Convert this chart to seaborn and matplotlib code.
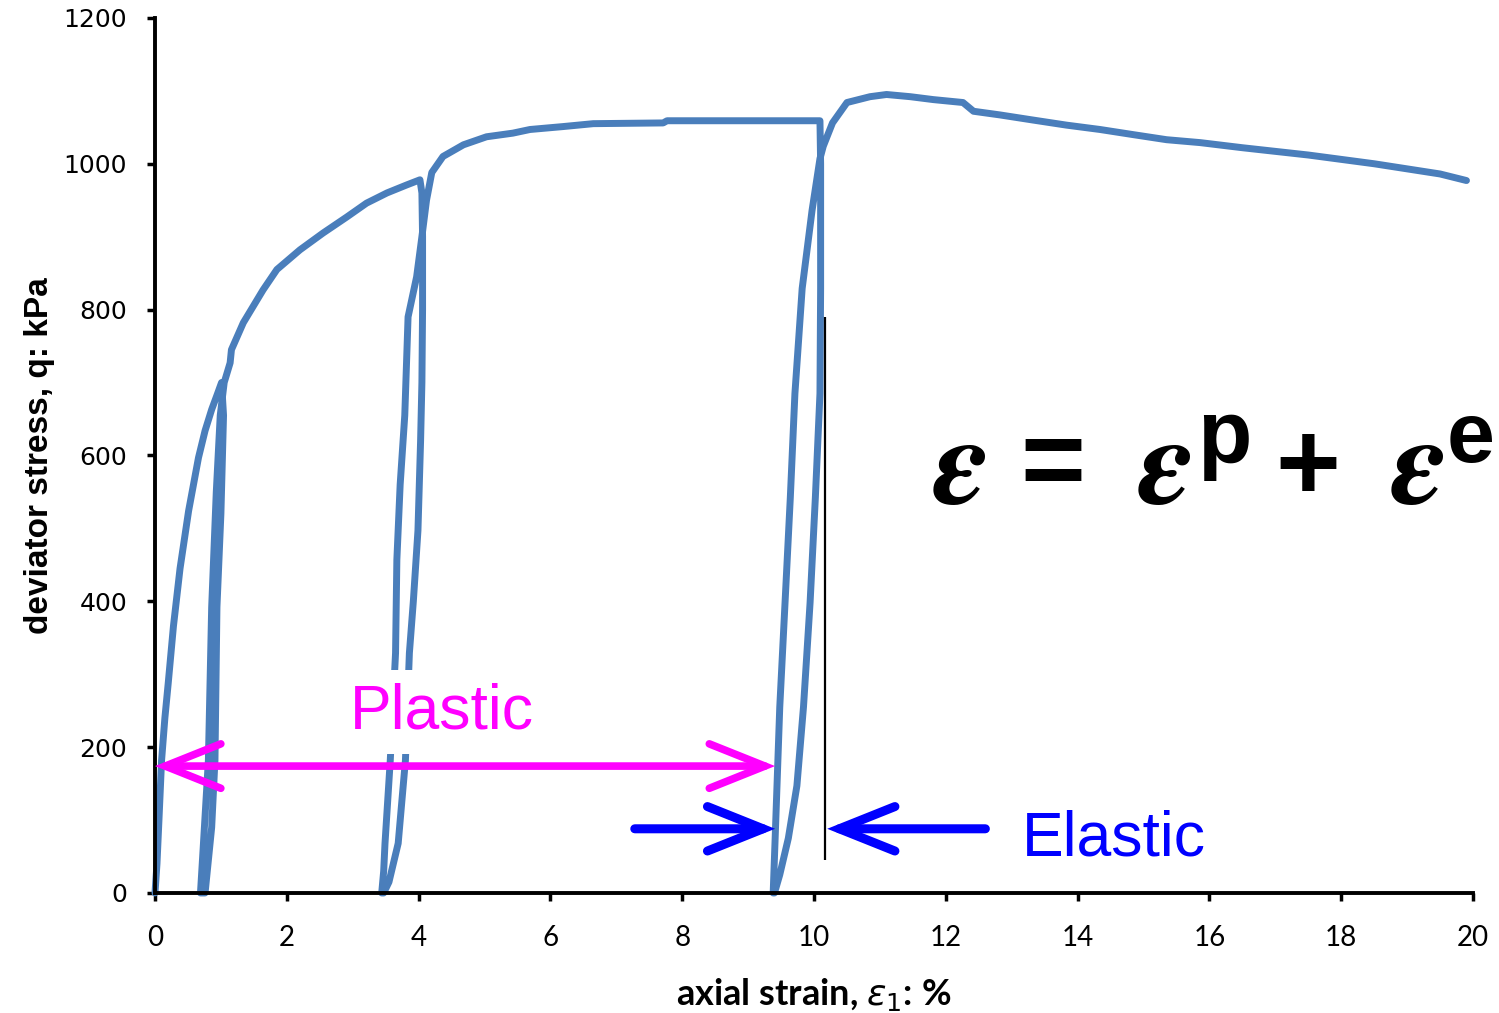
import matplotlib
matplotlib.use("Agg")
import matplotlib.pyplot as plt
import seaborn as sns
import pandas as pd

strain = [
    # first loading
    0.00, 0.03, 0.06, 0.10, 0.15, 0.20, 0.28, 0.38, 0.51, 0.66, 0.76, 0.86, 0.95, 1.01,
    # first unloading
    1.04, 1.00, 0.94, 0.91, 0.86, 0.76,
    # reloading
    0.69, 0.73, 0.81, 0.86, 0.93, 0.99, 1.05, 1.14, 1.16, 1.34, 1.64, 1.85, 2.20, 2.55, 2.91,
    3.21, 3.52, 3.82, 4.02,
    # second unloading
    4.05, 4.06, 4.06, 4.05, 4.03, 3.99, 3.92, 3.86, 3.80, 3.69, 3.55, 3.47,
    # reloading
    3.44, 3.47, 3.49, 3.57, 3.65, 3.67, 3.72, 3.79, 3.84, 3.97, 4.05, 4.12, 4.20, 4.37, 4.68,
    5.03, 5.43, 5.69, 6.19, 6.65, 7.71, 7.77, 10.09,
    # third unloading
    10.10, 10.10, 10.10, 10.09, 10.02, 9.94, 9.84, 9.74, 9.61, 9.48, 9.40,
    # reloading and post-peak
    9.38, 9.41, 9.48, 9.56, 9.64, 9.71, 9.82, 9.97, 10.09, 10.14, 10.28, 10.50, 10.85, 11.10,
    11.46, 11.81, 12.26, 12.42, 12.82, 13.32, 13.83, 14.34, 14.84, 15.35, 15.86, 16.50, 17.00,
    17.50, 18.00, 18.50, 19.00, 19.50, 19.90,
]
stress = [
    0, 40, 100, 182, 240, 287, 366, 445, 524, 597, 634, 663, 685, 700,
    655, 520, 392, 182, 90, 0,
    0, 60, 182, 392, 550, 655, 700, 727, 745, 782, 827, 855, 882, 905, 927,
    946, 960, 971, 978,
    960, 900, 800, 700, 620, 497, 400, 329, 182, 68, 15, 0,
    0, 30, 68, 182, 329, 457, 560, 655, 790, 845, 900, 950, 988, 1010, 1026,
    1037, 1042, 1047, 1051, 1055, 1056, 1059, 1059,
    1000, 900, 829, 685, 542, 398, 255, 147, 75, 25, 0,
    0, 75, 255, 398, 542, 685, 829, 936, 1007, 1024, 1056, 1084, 1092, 1095,
    1092, 1088, 1084, 1072, 1067, 1060, 1053, 1047, 1040, 1033, 1029, 1022, 1017,
    1012, 1006, 1000, 993, 986, 977,
]

x_ticks = [0, 2, 4, 6, 8, 10, 12, 14, 16, 18, 20]
y_ticks = [0, 200, 400, 600, 800, 1000, 1200]

# annotation anchors (strain %, stress kPa)
plastic_start, plastic_end, plastic_q = 0.0, 9.41, 174
elastic_left, elastic_right, elastic_q = 9.41, 10.20, 88
elastic_line_x = 10.17

sns.set_style("white")
plt.rcParams["font.family"] = ["Liberation Sans", "DejaVu Sans"]
plt.rcParams["text.color"] = "black"
plt.rcParams["axes.labelcolor"] = "black"
plt.rcParams["xtick.color"] = "black"
plt.rcParams["ytick.color"] = "black"

fig = plt.figure(figsize=(14.99, 10.13), dpi=100)
ax = fig.add_axes([0.1034, 0.1185, 0.8793, 0.8638])

df = pd.DataFrame({"strain": strain, "stress": stress})
sns.lineplot(data=df, x="strain", y="stress", sort=False, estimator=None,
             color="#4a7ebb", lw=5, ax=ax, zorder=2, clip_on=False)

ax.set_xlim(0, 20)
ax.set_ylim(0, 1200)
ax.set_xticks(x_ticks)
ax.set_yticks(y_ticks)
for s in ["top", "right"]:
    ax.spines[s].set_visible(False)
for s in ["left", "bottom"]:
    ax.spines[s].set_linewidth(2.8)
    ax.spines[s].set_color("black")
ax.tick_params(direction="out", length=6, width=2.5, color="black",
               bottom=True, left=True, labelcolor="black")
ax.tick_params(axis="x", pad=17)
ax.tick_params(axis="y", pad=14)
for lab in ax.get_xticklabels():
    lab.set_fontfamily(["Lato", "DejaVu Sans"])
    lab.set_fontsize(20)
for lab in ax.get_yticklabels():
    lab.set_fontfamily(["DejaVu Sans"])
    lab.set_fontsize(18)

ax.set_xlabel(r"axial strain, $\varepsilon_1$: %", fontsize=26, fontweight="bold",
              family=["Lato", "DejaVu Sans"], labelpad=18)
ax.set_ylabel("deviator stress, q: kPa", fontsize=24, fontweight="bold",
              family=["Liberation Sans"], labelpad=6)

# plastic strain arrow
ax.annotate("", xy=(plastic_end, plastic_q), xytext=(plastic_start, plastic_q),
            arrowprops=dict(arrowstyle="<->,head_length=2.0,head_width=0.8", color="#ff00ff",
                            lw=5.5, shrinkA=0, shrinkB=0, mutation_scale=20,
                            capstyle="round", joinstyle="miter"), zorder=4)
# elastic strain arrows
ax.annotate("", xy=(elastic_left, elastic_q), xytext=(7.28, elastic_q),
            arrowprops=dict(arrowstyle="->,head_length=2.0,head_width=0.8", color="#0000ff",
                            lw=6.5, shrinkA=0, shrinkB=0, mutation_scale=20,
                            capstyle="round", joinstyle="miter"), zorder=4)
ax.annotate("", xy=(elastic_right, elastic_q), xytext=(12.6, elastic_q),
            arrowprops=dict(arrowstyle="->,head_length=2.0,head_width=0.8", color="#0000ff",
                            lw=6.5, shrinkA=0, shrinkB=0, mutation_scale=20,
                            capstyle="round", joinstyle="miter"), zorder=4)
ax.vlines(elastic_line_x, 45, 790, color="black", lw=1.6, zorder=3)

ax.text(2.96, 226, "Plastic", color="#ff00ff", fontsize=45, ha="left", va="baseline",
        family="Liberation Sans", zorder=5,
        bbox=dict(boxstyle="square,pad=0.2", fc="white", ec="none"))
ax.text(13.16, 52, "Elastic", color="#0000ff", fontsize=45, ha="left", va="baseline",
        family="Liberation Sans", zorder=5)

# equation  e = e^p + e^e
W, H = 1499, 1013
eps = r"$\mathbfit{\varepsilon}$"
eps_kw = dict(math_fontfamily="stix", fontsize=90, va="baseline", ha="center")
sans_kw = dict(family="Liberation Sans", weight="bold", va="baseline")
fig.text(960 / W, 1 - 503 / H, eps, **eps_kw)
fig.text(1053 / W, 1 - 497 / H, "=", fontsize=80, ha="center", **sans_kw)
fig.text(1165 / W, 1 - 503 / H, eps, **eps_kw)
fig.text(1197 / W, 1 - 462 / H, "p", fontsize=64, ha="left", **sans_kw)
fig.text(1308 / W, 1 - 500 / H, "+", fontsize=80, ha="center", **sans_kw)
fig.text(1418 / W, 1 - 503 / H, eps, **eps_kw)
fig.text(1447 / W, 1 - 462 / H, "e", fontsize=62, ha="left", **sans_kw)

fig.savefig("out.png", dpi=100, facecolor="white")
